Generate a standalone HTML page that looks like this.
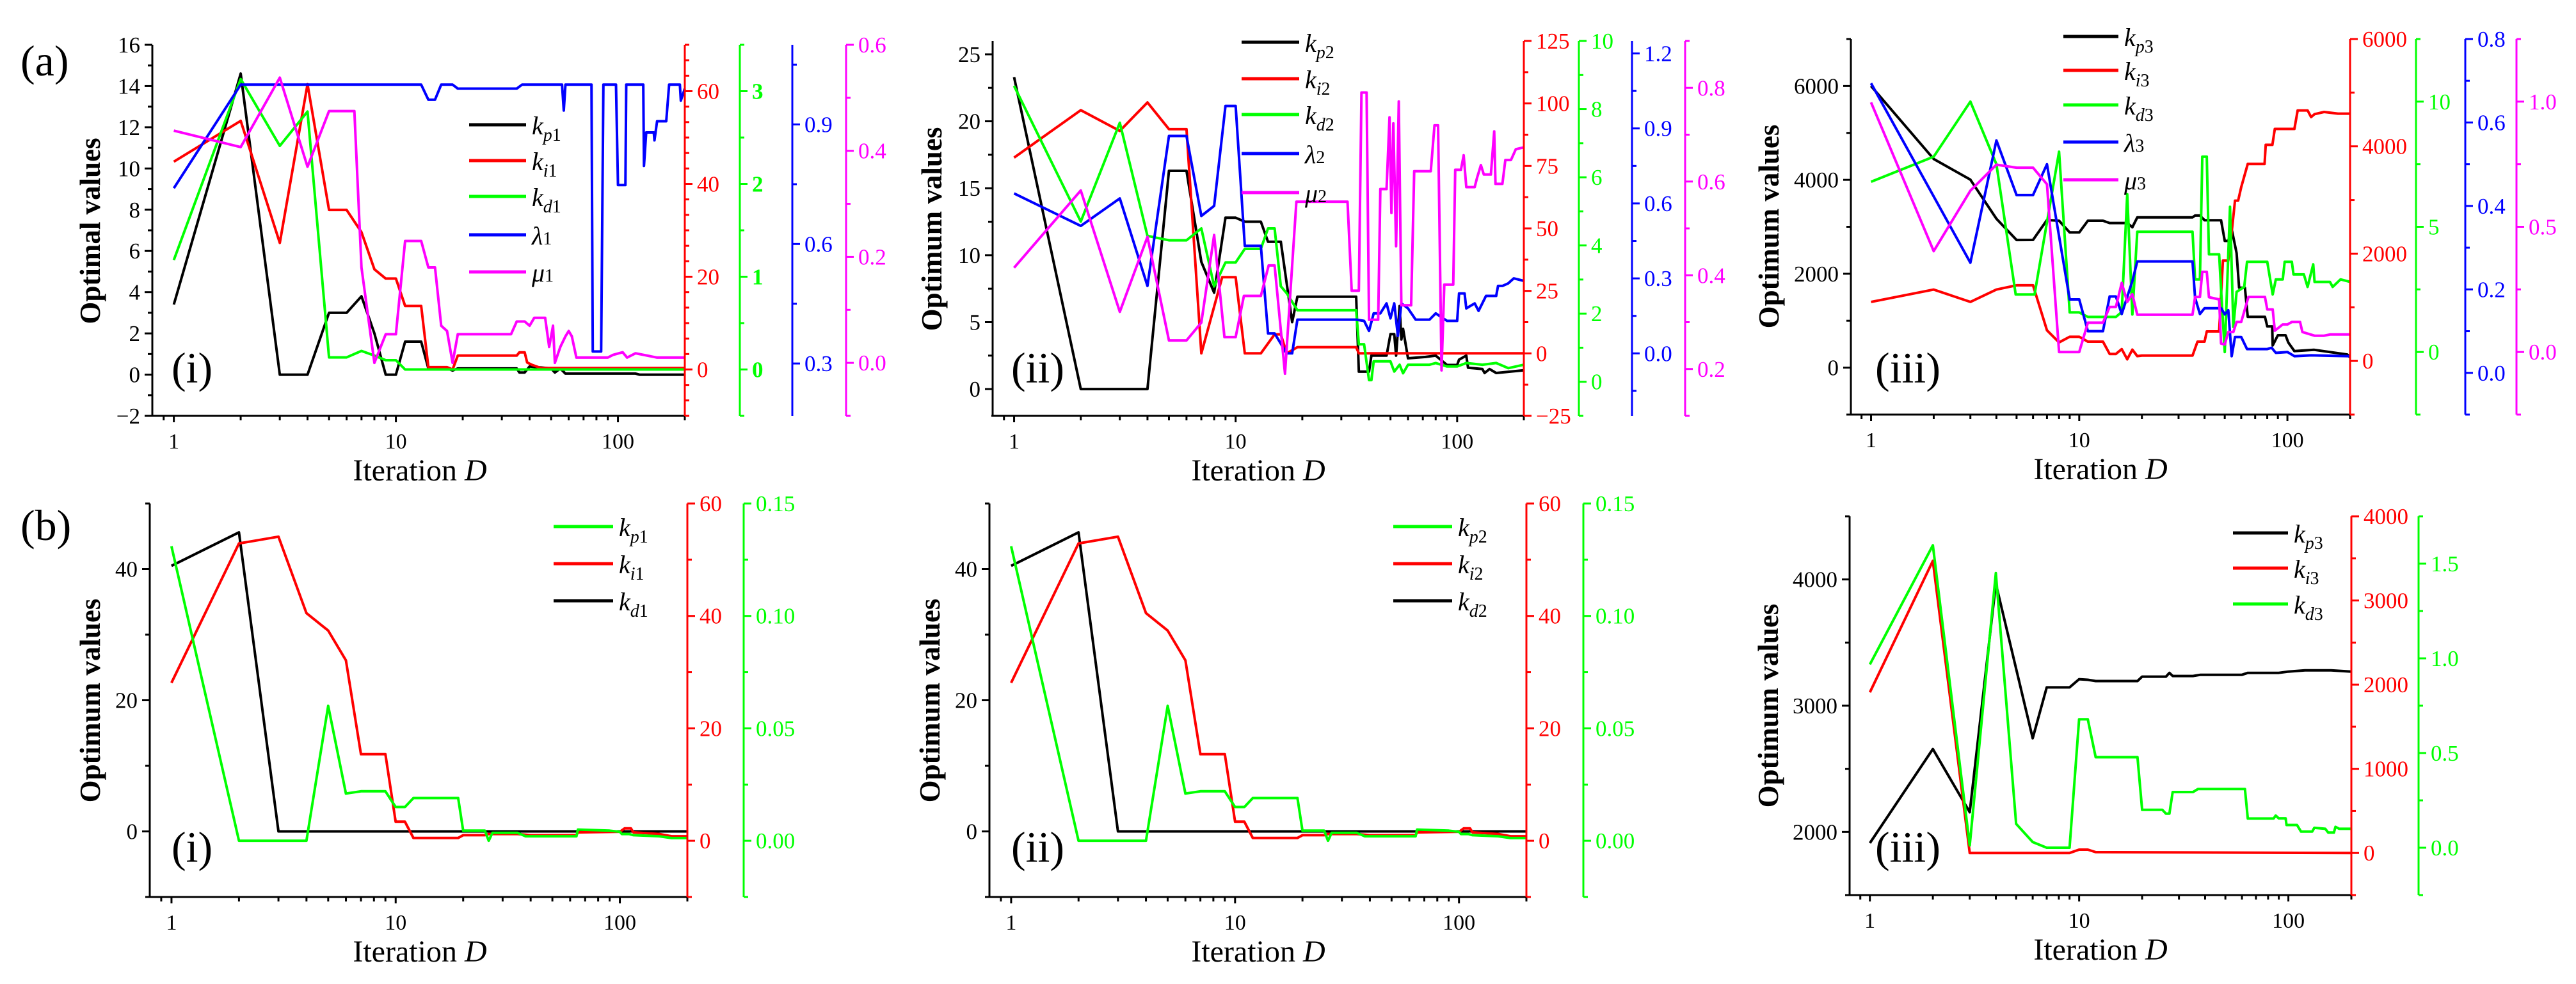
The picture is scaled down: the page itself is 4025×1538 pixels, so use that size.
<!DOCTYPE html>
<html><head><meta charset="utf-8"><style>
html,body{margin:0;padding:0;background:#fff}
svg{display:block;font-family:"Liberation Serif","Times New Roman",serif}
svg text{font-family:"Liberation Serif","Times New Roman",serif}
</style></head><body>
<svg id="fig" xmlns="http://www.w3.org/2000/svg" width="4025" height="1538" viewBox="0 0 4025 1538" font-family="Liberation Serif, serif"></svg>
<script>
// ---------- DATA: panel (a)(i) ----------
const a1_kp_it=[1,2,3,4,5,6,7,8,9,10,11,13,14,17,18,19,35,36,38,40,50,52,55,58,120,125,200];
const a1_kp_val=[3.4,14.6,0,0,3.0,3.0,3.8,2,0,0,1.6,1.6,0.3,0.3,0.2,0.3,0.3,0.1,0.1,0.4,0.3,0.1,0.3,0.05,0.05,0,0];
const a1_ki_it=[1,2,3,4,5,6,7,8,9,10,11,13,14,17,18,19,35,36,38,39,41,45,200];
const a1_ki_val=[44.8,53.6,27.3,61.5,34.4,34.4,29.6,21.6,19.6,19.6,13.7,13.7,0.5,0.5,0,3,3,3.7,3.7,1.5,1,0.3,0.3];
const a1_kd_it=[1,2,3,4,5,6,7,8,9,10,11,200];
const a1_kd_val=[1.18,3.13,2.41,2.78,0.13,0.13,0.2,0.15,0.1,0.1,0,0];
const a1_la_it=[1,2,13,14,15,16,18,19,35,37,56,57,58,76,77,84,86,98,100,108,109,130,131,134,145,146,150,165,170,190,192,200];
const a1_la_val=[0.74,1.0,1.0,0.962,0.962,1.0,1.0,0.99,0.99,1.0,1.0,0.935,1.0,1.0,0.33,0.33,1.0,1.0,0.748,0.748,1.0,1.0,0.796,0.88,0.88,0.86,0.908,0.908,1.0,1.0,0.96,0.99];
const a1_mu_it=[1,2,3,4,5,6.5,7,8,9,10,11,13,14,15,16,17,18,19,33,35,38,40,42,47,49,51,52,55,58,60,62,65,90,95,105,110,120,150,200];
const a1_mu_val=[0.438,0.407,0.538,0.37,0.475,0.475,0.18,0.0,0.054,0.054,0.23,0.23,0.18,0.18,0.07,0.06,0.0,0.054,0.054,0.078,0.078,0.07,0.085,0.085,0.03,0.07,0.0,0.03,0.05,0.06,0.05,0.01,0.01,0.015,0.02,0.01,0.018,0.01,0.01];
// ---------- DATA: panel (a)(ii) ----------
const a2_kp_it=[1,2,4,5,6,7,8,9,10,11,13,14,16,18,19,35,36,40,41,48,50,52,53,55,56,57,60,72,80,90,100,102,110,112,130,133,140,150,200];
const a2_kp_val=[23.3,0,0,16.3,16.3,9.5,7.2,12.8,12.8,12.5,12.5,11,11,5,6.9,6.9,1.3,1.3,2.5,2.5,4.1,4.1,2.5,6.2,3.7,4.5,2.3,2.4,2.5,1.8,1.8,2.2,2.5,1.6,1.5,1.2,1.5,1.2,1.4];
const a2_ki_it=[1,2,3,4,5,6,7,8.7,10,11,13,15,16,17,19,35,36,200];
const a2_ki_val=[78.3,97.3,89,100.4,89.7,89.7,0,30.5,30.5,0,0,7.6,7.6,0,2.5,2.5,0,0];
const a2_kd_it=[1,2,3,4,5,6,7,8,9,10,11,13,14,15,16,17,19,35,36,38,40,41,42,50,52,55,57,60,75,80,90,100,110,130,150,170,200];
const a2_kd_val=[8.68,4.7,7.6,4.28,4.15,4.15,4.5,2.8,3.5,3.5,3.9,3.9,4.5,4.5,2.8,2.6,2.1,2.1,1.1,1.1,0.05,0.05,0.6,0.6,0.3,0.5,0.25,0.5,0.5,0.55,0.45,0.45,0.55,0.5,0.55,0.4,0.5];
const a2_la_it=[1,2,3,4,5,6,7,8,9,10,11,13,14,15,17,18,19,35,38,40,42,45,48,50,52,54,56,60,65,75,80,90,100,102,108,110,120,125,135,150,153,160,170,180,200];
const a2_la_val=[0.64,0.51,0.62,0.27,0.87,0.87,0.55,0.59,0.99,0.99,0.43,0.43,0.08,0.08,0,0,0.135,0.135,0.13,0.09,0.16,0.16,0.2,0.14,0.2,0.07,0.2,0.18,0.135,0.135,0.16,0.13,0.13,0.24,0.24,0.18,0.2,0.17,0.23,0.23,0.27,0.27,0.28,0.3,0.29];
const a2_mu_it=[1,2,3,4,5,6,7,8,8.9,10,10.9,13,14.1,15,16.7,18.8,32,33.4,36,37,39,40,44,45,48,49.5,50.5,51.5,53,54.5,56,62,64,76,79,82,85,87.5,96,98,104,107,110,120,123,128,132,142,147,149,160,165,175,184,200];
const a2_mu_val=[0.416,0.581,0.322,0.482,0.261,0.261,0.299,0.486,0.268,0.268,0.356,0.356,0.421,0.421,0.19,0.557,0.557,0.367,0.367,0.79,0.79,0.305,0.305,0.584,0.584,0.737,0.533,0.724,0.462,0.771,0.336,0.336,0.622,0.622,0.72,0.72,0.197,0.38,0.38,0.625,0.625,0.656,0.588,0.588,0.608,0.635,0.615,0.615,0.707,0.595,0.595,0.646,0.646,0.669,0.673];
// ---------- DATA: panel (a)(iii) ----------
const a3_kp_it=[1,2,3,4,5,6,7,8,9,10,11,13,14,17,18,19,35,36,38,40,48,50,52,54,57,58.6,62.5,64.5,78,80,84.5,85,90,98,101,108,134,194,200];
const a3_kp_val=[6000,4444,4004,3172,2719,2720,3145,3130,2880,2880,3130,3130,3080,3080,2990,3200,3200,3240,3240,3140,3140,2700,2700,2950,2440,1704,1700,1082,1082,879,879,473,690,690,534,352,380,280,216];
const a3_ki_it=[1,2,3,4,5,6,7,8,9,10,11,13,14,15,16,17,18,19,20,35,37,40,41,47,49,52,54,56,58,60,64.5,77.7,78.7,84.7,87,108,112,125,130,135,150,175,200];
const a3_ki_val=[1100,1330,1100,1330,1410,1410,570,345,450,450,360,360,130,130,220,30,210,90,100,100,360,360,550,550,1870,1870,2400,2988,2988,3238,3671,3671,4028,4028,4325,4325,4669,4669,4545,4600,4640,4610,4610];
const a3_kd_it=[1,2,3,4,4.95,6.1,8,9,10,11,15,16,17,18,19,35,36,38,39,41,42,47,48,50,51,53,55,57,62,64,80,85,88,95,97,105,107,120,125,133,135,160,165,180,200];
const a3_kd_val=[6.8,7.8,10.0,7.5,2.3,2.3,8.0,1.58,1.58,1.4,1.4,1.6,6.3,1.5,4.8,4.8,2.9,2.9,7.8,7.8,3.9,3.9,2.5,0.0,2.0,5.8,1.0,2.4,2.6,3.6,3.6,2.3,2.9,2.9,3.6,3.6,3.1,3.1,2.6,3.5,2.8,2.8,2.6,2.9,2.8];
const a3_la_it=[1,3,4,5,6,7,9,10,11,13,14,15,16,18,19,35,36,38,40,48,50,52,54,56,60,64,80,84,88,100,108,130,200];
const a3_la_val=[0.694,0.264,0.557,0.426,0.426,0.5,0.176,0.176,0.1,0.1,0.183,0.183,0.141,0.22,0.267,0.267,0.18,0.141,0.155,0.155,0.14,0.15,0.04,0.086,0.086,0.057,0.057,0.06,0.048,0.05,0.04,0.042,0.04];
const a3_mu_it=[1,2,3,4,5,6,7,8,9,10,11,13,14,15,16,17,18,19,35,36,38,39,41,42,47,48,50,52,55,57,60,65,78,80,85,87,95,100,105,115,118,135,150,160,200];
const a3_mu_val=[0.997,0.403,0.644,0.748,0.736,0.736,0.67,0,0,0,0.117,0.117,0.18,0.18,0.276,0.2,0.231,0.149,0.149,0.22,0.22,0.32,0.32,0.219,0.21,0.034,0.03,0.08,0.08,0.12,0.12,0.22,0.22,0.17,0.17,0.085,0.11,0.11,0.12,0.12,0.08,0.065,0.065,0.07,0.07];
// ---------- DATA: panels (b)(i) and (b)(ii) ----------
const b1_kd_it=[1,2,3,200];
const b1_kd_val=[40.5,45.6,0,0];
const b1_ki_it=[1,2,3,4,5,6,7,9,10,11,12,19,20,25,26,35,40,64,65,100,105,112,115,150,170,200];
const b1_ki_val=[28.1,52.9,54.1,40.5,37.4,32.1,15.4,15.4,3.4,3.4,0.5,0.5,1.0,1.0,1.2,1.2,1.0,1.0,1.5,1.6,2.2,2.2,1.5,1.2,0.8,0.8];
const b1_kp_it=[1,2,4,5,6,7,9,10,11,12,19,20,25,26,27,35,38,64,65,90,100,102,110,115,150,170,200];
const b1_kp_val=[0.131,0,0,0.06,0.021,0.022,0.022,0.015,0.015,0.019,0.019,0.0045,0.0045,0,0.0035,0.0035,0.002,0.002,0.005,0.0045,0.004,0.003,0.003,0.0025,0.002,0.0012,0.0012];
const b2_kd_it=b1_kd_it, b2_kd_val=b1_kd_val, b2_ki_it=b1_ki_it, b2_ki_val=b1_ki_val, b2_kp_it=b1_kp_it, b2_kp_val=b1_kp_val;
// ---------- DATA: panel (b)(iii) ----------
const b3_kp_it=[1,2,3,4,6,7,9,10,11,12,19,20,26,27,28,35,38,60,64,90,100,120,160,200];
const b3_kp_val=[1912,2657,2156,3967,2742,3145,3145,3210,3205,3195,3195,3230,3230,3260,3235,3235,3245,3245,3260,3260,3270,3280,3280,3270];
const b3_ki_it=[1,2,3,9,10,11,12,200];
const b3_ki_val=[1909,3471,0,0,40,40,10,0];
const b3_kd_it=[1,2,3,4,5,6,7,9,10,11,12,19,20,25,26,27,28,35,37,62,64,85,87,90,97,98,110,115,130,133,150,155,165,168,175,200];
const b3_kd_val=[0.968,1.597,0.012,1.45,0.126,0.03,0,0,0.678,0.678,0.478,0.478,0.2,0.2,0.18,0.18,0.294,0.294,0.31,0.31,0.154,0.154,0.17,0.155,0.155,0.12,0.12,0.085,0.085,0.105,0.1,0.08,0.08,0.11,0.1,0.1];

// ---------- RENDERING ----------
const NS="http://www.w3.org/2000/svg";
const svg=document.getElementById('fig');
const FF='"Liberation Serif", "Times New Roman", serif';
const R='#ff0000',G='#00ff00',B='#0000ff',M='#ff00ff',K='#000000';
function el(tag,attrs,parent){const e=document.createElementNS(NS,tag);for(const k in attrs)e.setAttribute(k,attrs[k]);if(tag==='text')e.style.fontFamily=FF;(parent||svg).appendChild(e);return e;}
function fmt(v,d){let s=Math.abs(v).toFixed(d);return (v<-1e-9?'\u2212':'')+s;}

function panel(p){
  const g=el('g',{});
  
  
  const L=p.l,Rt=p.r,T=p.t,Bt=p.b;
  const lx0=Math.log10(0.8),lx1=Math.log10(200);
  const xs=v=>L+(Math.log10(v)-lx0)/(lx1-lx0)*(Rt-L);
  const scales=p.axes.map(a=>(v=>Bt-(v-a.min)/(a.max-a.min)*(Bt-T)));
  p.series.forEach(s=>{
    const ys=scales[s.axis];
    let d='';
    s.it.forEach((it,i)=>{d+=(i?'L':'M')+xs(it).toFixed(1)+','+ys(s.val[i]).toFixed(1);});
    const path=el('path',{d:d,fill:'none',stroke:s.color,'stroke-width':4,'stroke-linejoin':'round'},g);
    
    
  });
  const xa=el('g',{},g);
  
  
  el('line',{x1:L-2,y1:Bt,x2:Rt,y2:Bt,stroke:K,'stroke-width':3},xa);
  const xt=[0.9];
  for(let dec=1;dec<=100;dec*=10)for(let m=1;m<=9;m++){if(m*dec<=200)xt.push(m*dec);}
  xt.push(200);
  xt.forEach(v=>{const x=xs(v);const major=(v===1||v===10||v===100);
    el('line',{x1:x,y1:Bt,x2:x,y2:Bt+(major?10:7),stroke:K,'stroke-width':3},xa);
    if(major){const t=el('text',{x:x,y:Bt+51,'font-size':34,'text-anchor':'middle',fill:K},xa);t.textContent=String(v);}
  });
  const xt2=el('text',{x:p.xtx,y:Bt+101,'font-size':48,'text-anchor':'middle',fill:K},g);
  
  
  xt2.innerHTML='Iteration <tspan font-style="italic">D</tspan>';
  p.axes.forEach((a,ai)=>{
    const ys=scales[ai];
    const ag=el('g',{},g);
    
    
    const ax=a.x,dir=a.side==='left'?-1:1;
    el('line',{x1:ax,y1:T,x2:ax,y2:Bt,stroke:a.color,'stroke-width':3},ag);
    const i0=Math.ceil(a.min/a.minor-1e-6),i1=Math.floor(a.max/a.minor+1e-6);
    for(let i=i0;i<=i1;i++){
      const v=i*a.minor;const y=ys(v);
      const isMaj=a.labels?a.labels.some(q=>Math.abs(q-v)<1e-6):Math.abs(v/a.major-Math.round(v/a.major))<1e-6;
      el('line',{x1:ax,y1:y,x2:ax+dir*(isMaj?12:7),y2:y,stroke:a.color,'stroke-width':3},ag);
      if(isMaj){
        const t=el('text',{x:ax+dir*19,y:y+12,'font-size':35,'text-anchor':dir<0?'end':'start',fill:a.color,'font-weight':a.bold?'bold':'normal'},ag);
        t.textContent=fmt(v,a.dec);
      }
    }
  });
  const yt=el('text',{x:0,y:0,'font-size':45,'font-weight':'bold','text-anchor':'middle',fill:K,transform:`translate(${p.ytx},${p.yty}) rotate(-90)`},g);
  
  
  yt.textContent=p.ytitle;
  const pl=el('text',{x:p.plx,y:p.ply,'font-size':68,fill:K},g);
  
  
  pl.textContent=p.plabel;
  const lg=el('g',{},g);
  
  
  p.legend.rows.forEach((y,i)=>{
    const s=p.series[p.legend.order[i]];
    const le=el('g',{},lg);
    
    
    el('line',{x1:p.legend.x1,y1:y,x2:p.legend.x2,y2:y,stroke:s.color,'stroke-width':5},le);
    const t=el('text',{x:p.legend.x2+9,y:y+15,'font-size':40,fill:K},le);
    const letter=s.sub.replace(/[0-9]/g,''),num=s.sub.replace(/[^0-9]/g,'');
    t.innerHTML='<tspan font-style="italic">'+s.sym+'</tspan><tspan font-size="28" dy="10" font-style="italic">'+letter+'</tspan><tspan font-size="28">'+num+'</tspan>';
  });
}

panel({name:'panel-a-i',l:238,r:1070,t:70,b:650,xtx:656,ytx:156,yty:361,ytitle:'Optimal values',plx:268,ply:598,plabel:'(i)',
 axes:[{name:'left-y-axis',x:238,side:'left',color:K,min:-2,max:16,major:2,minor:1,dec:0},
       {name:'red-y-axis',x:1070,side:'right',color:R,min:-10,max:70,major:20,minor:20/6,dec:0,labels:[0,20,40,60]},
       {name:'green-y-axis',x:1156,side:'right',color:G,min:-0.5,max:3.5,major:1,minor:0.5,dec:0,bold:true,labels:[0,1,2,3]},
       {name:'blue-y-axis',x:1238,side:'right',color:B,min:0.1685,max:1.1,major:0.3,minor:0.15,dec:1,labels:[0.3,0.6,0.9]},
       {name:'magenta-y-axis',x:1322,side:'right',color:M,min:-0.1,max:0.6,major:0.2,minor:0.1,dec:1,labels:[0,0.2,0.4,0.6]}],
 series:[{name:'kp1-line',it:a1_kp_it,val:a1_kp_val,color:K,axis:0,sym:'k',sub:'p1'},
         {name:'ki1-line',it:a1_ki_it,val:a1_ki_val,color:R,axis:1,sym:'k',sub:'i1'},
         {name:'kd1-line',it:a1_kd_it,val:a1_kd_val,color:G,axis:2,sym:'k',sub:'d1'},
         {name:'lambda1-line',it:a1_la_it,val:a1_la_val,color:B,axis:3,sym:'\u03bb',sub:'1'},
         {name:'mu1-line',it:a1_mu_it,val:a1_mu_val,color:M,axis:4,sym:'\u03bc',sub:'1'}],
 legend:{x1:733,x2:822,rows:[195,251,307,367,425],order:[0,1,2,3,4]}});
panel({name:'panel-a-ii',l:1551,r:2381,t:64,b:650,xtx:1966,ytx:1471,yty:358,ytitle:'Optimum values',plx:1580,ply:598,plabel:'(ii)',
 axes:[{name:'left-y-axis',x:1551,side:'left',color:K,min:-2,max:26,major:5,minor:2.5,dec:0,labels:[0,5,10,15,20,25]},
       {name:'red-y-axis',x:2381,side:'right',color:R,min:-25,max:125,major:25,minor:12.5,dec:0,labels:[-25,0,25,50,75,100,125]},
       {name:'green-y-axis',x:2467,side:'right',color:G,min:-1,max:10,major:2,minor:1,dec:0,labels:[0,2,4,6,8,10]},
       {name:'blue-y-axis',x:2550,side:'right',color:B,min:-0.25,max:1.25,major:0.3,minor:0.15,dec:1,labels:[0,0.3,0.6,0.9,1.2]},
       {name:'magenta-y-axis',x:2633,side:'right',color:M,min:0.1,max:0.9,major:0.2,minor:0.1,dec:1,labels:[0.2,0.4,0.6,0.8]}],
 series:[{name:'kp2-line',it:a2_kp_it,val:a2_kp_val,color:K,axis:0,sym:'k',sub:'p2'},
         {name:'ki2-line',it:a2_ki_it,val:a2_ki_val,color:R,axis:1,sym:'k',sub:'i2'},
         {name:'kd2-line',it:a2_kd_it,val:a2_kd_val,color:G,axis:2,sym:'k',sub:'d2'},
         {name:'lambda2-line',it:a2_la_it,val:a2_la_val,color:B,axis:3,sym:'\u03bb',sub:'2'},
         {name:'mu2-line',it:a2_mu_it,val:a2_mu_val,color:M,axis:4,sym:'\u03bc',sub:'2'}],
 legend:{x1:1940,x2:2030,rows:[66,123,179,240,301],order:[0,1,2,3,4]}});
panel({name:'panel-a-iii',l:2892,r:3672,t:61,b:648,xtx:3282,ytx:2779,yty:354,ytitle:'Optimum values',plx:2930,ply:598,plabel:'(iii)',
 axes:[{name:'left-y-axis',x:2892,side:'left',color:K,min:-1000,max:7000,major:2000,minor:1000,dec:0},
       {name:'red-y-axis',x:3672,side:'right',color:R,min:-1000,max:6000,major:2000,minor:1000,dec:0},
       {name:'green-y-axis',x:3775,side:'right',color:G,min:-2.5,max:12.5,major:5,minor:2.5,dec:0},
       {name:'blue-y-axis',x:3852,side:'right',color:B,min:-0.1,max:0.8,major:0.2,minor:0.1,dec:1},
       {name:'magenta-y-axis',x:3932,side:'right',color:M,min:-0.25,max:1.25,major:0.5,minor:0.25,dec:1,labels:[0,0.5,1]}],
 series:[{name:'kp3-line',it:a3_kp_it,val:a3_kp_val,color:K,axis:0,sym:'k',sub:'p3'},
         {name:'ki3-line',it:a3_ki_it,val:a3_ki_val,color:R,axis:1,sym:'k',sub:'i3'},
         {name:'kd3-line',it:a3_kd_it,val:a3_kd_val,color:G,axis:2,sym:'k',sub:'d3'},
         {name:'lambda3-line',it:a3_la_it,val:a3_la_val,color:B,axis:3,sym:'\u03bb',sub:'3'},
         {name:'mu3-line',it:a3_mu_it,val:a3_mu_val,color:M,axis:4,sym:'\u03bc',sub:'3'}],
 legend:{x1:3224,x2:3310,rows:[57,110,164,222,281],order:[0,1,2,3,4]}});
panel({name:'panel-b-i',l:234,r:1074,t:787,b:1402,xtx:656,ytx:156,yty:1095,ytitle:'Optimum values',plx:268,ply:1347,plabel:'(i)',
 axes:[{name:'left-y-axis',x:234,side:'left',color:K,min:-10,max:50,major:20,minor:10,dec:0,labels:[0,20,40]},
       {name:'red-y-axis',x:1074,side:'right',color:R,min:-10,max:60,major:20,minor:10,dec:0},
       {name:'green-y-axis',x:1162,side:'right',color:G,min:-0.025,max:0.15,major:0.05,minor:0.025,dec:2}],
 series:[{name:'kd1-line',it:b1_kd_it,val:b1_kd_val,color:K,axis:0,sym:'k',sub:'d1'},
         {name:'ki1-line',it:b1_ki_it,val:b1_ki_val,color:R,axis:1,sym:'k',sub:'i1'},
         {name:'kp1-line',it:b1_kp_it,val:b1_kp_val,color:G,axis:2,sym:'k',sub:'p1'}],
 legend:{x1:865,x2:958,rows:[823,881,939],order:[2,1,0]}});
panel({name:'panel-b-ii',l:1546,r:2385,t:787,b:1402,xtx:1966,ytx:1468,yty:1095,ytitle:'Optimum values',plx:1580,ply:1347,plabel:'(ii)',
 axes:[{name:'left-y-axis',x:1546,side:'left',color:K,min:-10,max:50,major:20,minor:10,dec:0,labels:[0,20,40]},
       {name:'red-y-axis',x:2385,side:'right',color:R,min:-10,max:60,major:20,minor:10,dec:0},
       {name:'green-y-axis',x:2474,side:'right',color:G,min:-0.025,max:0.15,major:0.05,minor:0.025,dec:2}],
 series:[{name:'kd2-line',it:b2_kd_it,val:b2_kd_val,color:K,axis:0,sym:'k',sub:'d2'},
         {name:'ki2-line',it:b2_ki_it,val:b2_ki_val,color:R,axis:1,sym:'k',sub:'i2'},
         {name:'kp2-line',it:b2_kp_it,val:b2_kp_val,color:G,axis:2,sym:'k',sub:'p2'}],
 legend:{x1:2177,x2:2269,rows:[823,881,939],order:[2,1,0]}});
panel({name:'panel-b-iii',l:2890,r:3674,t:807,b:1399,xtx:3282,ytx:2778,yty:1103,ytitle:'Optimum values',plx:2930,ply:1347,plabel:'(iii)',
 axes:[{name:'left-y-axis',x:2890,side:'left',color:K,min:1500,max:4500,major:1000,minor:500,dec:0},
       {name:'red-y-axis',x:3674,side:'right',color:R,min:-500,max:4000,major:1000,minor:500,dec:0},
       {name:'green-y-axis',x:3779,side:'right',color:G,min:-0.25,max:1.75,major:0.5,minor:0.25,dec:1}],
 series:[{name:'kp3-line',it:b3_kp_it,val:b3_kp_val,color:K,axis:0,sym:'k',sub:'p3'},
         {name:'ki3-line',it:b3_ki_it,val:b3_ki_val,color:R,axis:1,sym:'k',sub:'i3'},
         {name:'kd3-line',it:b3_kd_it,val:b3_kd_val,color:G,axis:2,sym:'k',sub:'d3'}],
 legend:{x1:3489,x2:3575,rows:[833,888,944],order:[0,1,2]}});
const ra=el('text',{x:32,y:118,'font-size':68,fill:K});


ra.textContent='(a)';
const rb=el('text',{x:32,y:844,'font-size':68,fill:K});


rb.textContent='(b)';
</script>
</body></html>
